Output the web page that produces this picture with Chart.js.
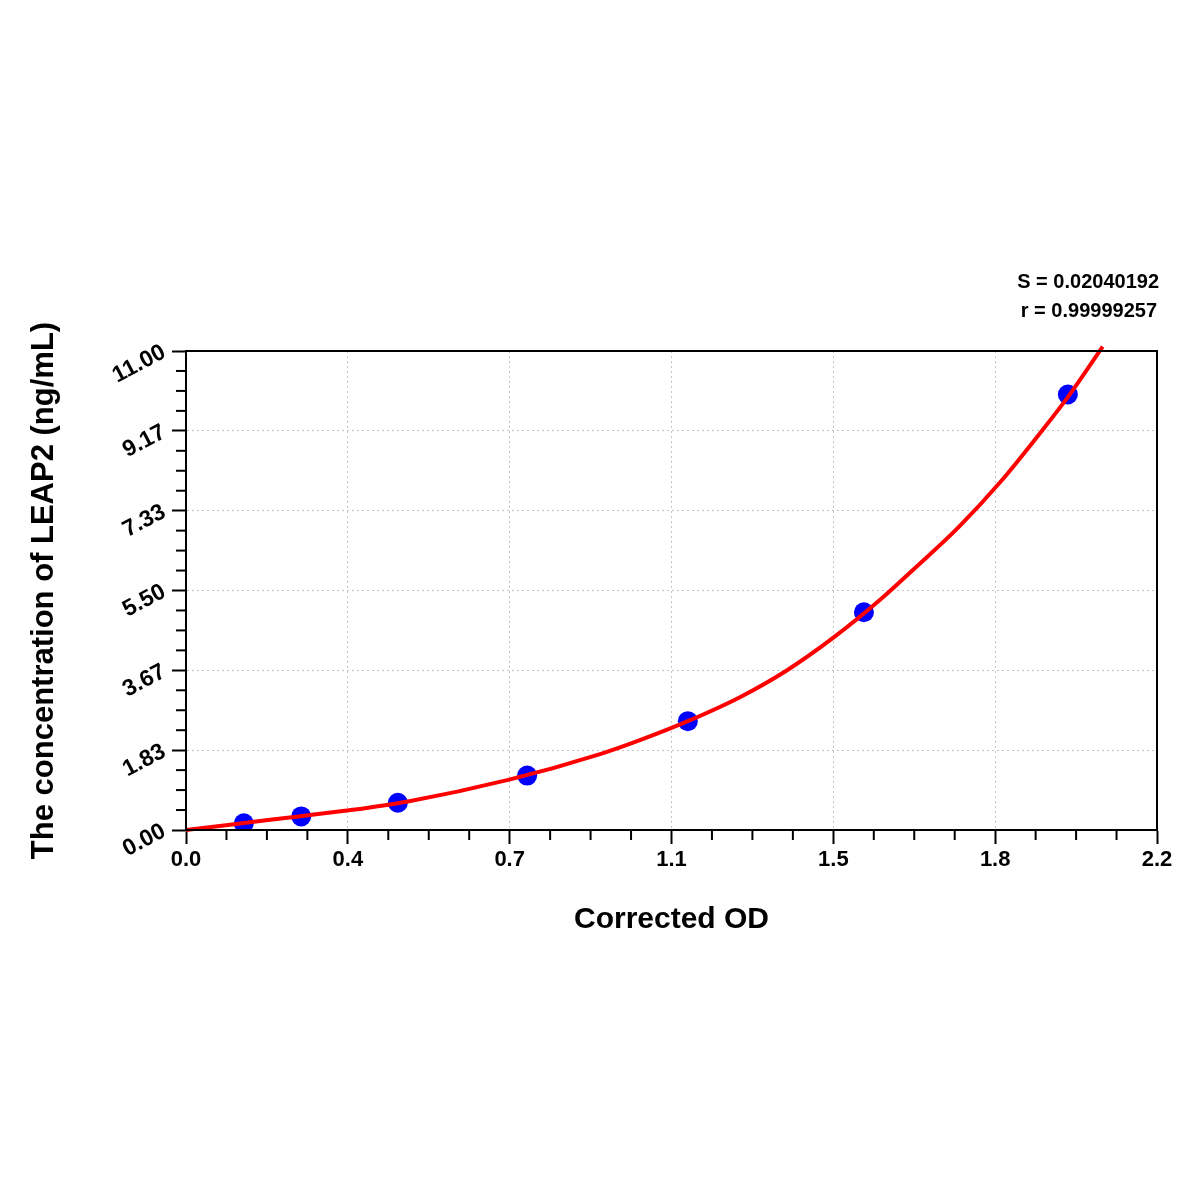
<!DOCTYPE html>
<html>
<head>
<meta charset="utf-8">
<script src="https://cdn.jsdelivr.net/npm/chart.js@4"></script>
<style>
  html, body { margin: 0; padding: 0; background: #fff; }
  #wrap { width: 1200px; height: 1200px; }
</style>
</head>
<body>
<div id="wrap"><canvas id="stdCurve" width="1200" height="1200"></canvas></div>
<script>
// standard points (OD, concentration)
const odValues = [0.131, 0.261, 0.480, 0.773, 1.137, 1.536, 1.998];
const concValues = [0.156, 0.312, 0.625, 1.25, 2.5, 5.0, 10.0];

// fitted curve
const curveOd = [0, 0.1, 0.2, 0.36, 0.5, 0.73, 0.94, 1.03, 1.137, 1.255, 1.362, 1.466, 1.572, 1.65, 1.75, 1.85, 1.93, 1.998, 2.077];
const curveConc = [0, 0.12, 0.245, 0.44, 0.65, 1.15, 1.75, 2.07, 2.50, 3.05, 3.67, 4.41, 5.28, 6.0, 6.95, 8.05, 9.05, 9.94, 11.1];

const xTickLabels = ['0.0', '0.4', '0.7', '1.1', '1.5', '1.8', '2.2'];
const yTickLabels = ['0.00', '1.83', '3.67', '5.50', '7.33', '9.17', '11.00'];
const xMax = 2.2;
const yMax = 11;
const fitStats = ['S = 0.02040192', 'r = 0.99999257'];

document.addEventListener("DOMContentLoaded", function() {
    Chart.defaults.font.family = '"Liberation Sans", Arial, sans-serif';
    Chart.defaults.color = '#000';

    const points = odValues.map((x, i) => ({ x: x, y: concValues[i] }));
    const curve = curveOd.map((x, i) => ({ x: x, y: curveConc[i] }));

    // evenly spaced major ticks, labels come from the arrays
    function evenTicks(labels, max) {
        return function(scale) {
            scale.ticks = labels.map((l, i) => ({ value: i * max / (labels.length - 1) }));
        };
    }

    function gridColor(ctx) {
        const n = ctx.scale.ticks.length;
        return (ctx.index === 0 || ctx.index === n - 1) ? 'rgba(0,0,0,0)' : '#c4c4c4';
    }

    // box round the plot plus the short minor ticks
    const framePlugin = {
        id: 'frame',
        afterDraw(chart) {
            const c = chart.ctx;
            const a = chart.chartArea;
            const xs = chart.scales.x, ys = chart.scales.y;
            c.save();
            c.strokeStyle = '#000';
            c.lineWidth = 2;
            c.strokeRect(a.left, a.top, a.right - a.left, a.bottom - a.top);
            const subs = 4;
            const nx = (xTickLabels.length - 1) * subs;
            for (let i = 1; i < nx; i++) {
                if (i % subs === 0) continue;
                const px = xs.getPixelForValue(i * xMax / nx);
                c.beginPath();
                c.moveTo(px, a.bottom);
                c.lineTo(px, a.bottom + 10);
                c.stroke();
            }
            const ny = (yTickLabels.length - 1) * subs;
            for (let i = 1; i < ny; i++) {
                if (i % subs === 0) continue;
                const py = ys.getPixelForValue(i * yMax / ny);
                c.beginPath();
                c.moveTo(a.left, py);
                c.lineTo(a.left - 10, py);
                c.stroke();
            }
            // fit statistics, right aligned above the plot
            c.fillStyle = '#000';
            c.font = 'bold 20px "Liberation Sans", Arial, sans-serif';
            c.textAlign = 'right';
            c.textBaseline = 'middle';
            c.fillText(fitStats[0], a.right + 2, 282);
            c.fillText(fitStats[1], a.right, 311);
            c.restore();
        }
    };

    new Chart(document.getElementById('stdCurve'), {
        type: 'scatter',
        data: {
            datasets: [
                {
                    label: 'Fit',
                    data: curve,
                    showLine: true,
                    borderColor: '#ff0000',
                    borderWidth: 4,
                    pointRadius: 0,
                    cubicInterpolationMode: 'monotone',
                    clip: false,
                    order: 0
                },
                {
                    label: 'Standards',
                    data: points,
                    backgroundColor: '#0000ff',
                    borderWidth: 0,
                    pointRadius: 10,
                    order: 1
                }
            ]
        },
        options: {
            responsive: false,
            animation: false,
            layout: { padding: { top: 351, right: 43, left: 20, bottom: 250 } },
            plugins: {
                legend: { display: false },
                tooltip: { enabled: false }
            },
            scales: {
                x: {
                    type: 'linear',
                    min: 0,
                    max: xMax,
                    afterBuildTicks: evenTicks(xTickLabels, xMax),
                    afterFit: function(scale) { scale.height = 120; },
                    ticks: {
                        callback: (v, i) => xTickLabels[i],
                        font: { size: 22, weight: 'bold' },
                        padding: 3,
                        maxRotation: 0
                    },
                    grid: {
                        color: gridColor,
                        lineWidth: 1,
                        tickColor: '#000',
                        tickWidth: 2,
                        tickLength: 14
                    },
                    border: { color: '#000', width: 2, dash: [2, 3] },
                    title: {
                        display: true,
                        text: 'Corrected OD',
                        font: { size: 30, weight: 'bold' },
                        padding: { top: 0, bottom: 12 }
                    }
                },
                y: {
                    type: 'linear',
                    min: 0,
                    max: yMax,
                    afterBuildTicks: evenTicks(yTickLabels, yMax),
                    afterFit: function(scale) { scale.width = 166; },
                    ticks: {
                        callback: (v, i) => yTickLabels[i],
                        font: { size: 23, weight: 'bold' },
                        padding: 8,
                        minRotation: 28,
                        maxRotation: 28
                    },
                    grid: {
                        color: gridColor,
                        lineWidth: 1,
                        tickColor: '#000',
                        tickWidth: 2,
                        tickLength: 14
                    },
                    border: { color: '#000', width: 2, dash: [2, 3] },
                    title: {
                        display: true,
                        text: 'The concentration of LEAP2 (ng/mL)',
                        font: { size: 31, weight: 'bold' },
                        padding: { top: 6, bottom: 0 }
                    }
                }
            }
        },
        plugins: [framePlugin]
    });
});
</script>
</body>
</html>
